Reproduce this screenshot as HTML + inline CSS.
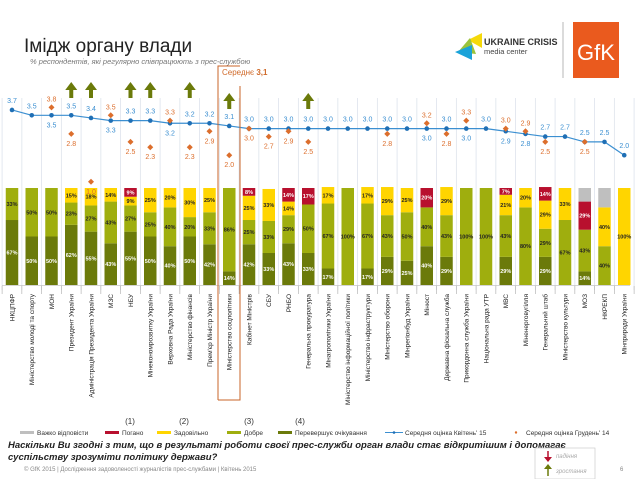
<!DOCTYPE html>
<html><head><meta charset="utf-8">
<style>
body{margin:0;background:#fff;font-family:"Liberation Sans",sans-serif;}
svg{display:block}
</style></head>
<body>
<svg id="c" width="638" height="479" viewBox="0 0 638 479" xmlns="http://www.w3.org/2000/svg" font-family="Liberation Sans, sans-serif">
<text x="24" y="52" font-size="19" fill="#222">Імідж органу влади</text>
<text x="30" y="64" font-size="7.5" font-style="italic" fill="#777">% респондентів, які регулярно співпрацюють з прес-службою</text>
<g>
<polygon points="468,40 482,33 482,48" fill="#f5d90a"/>
<polygon points="458,52 470,38 476,54" fill="#9ac33c"/>
<polygon points="455,52 472,45 472,60" fill="#1aa3d9"/>
<text x="484" y="45" font-size="9" font-weight="bold" fill="#333">UKRAINE CRISIS</text>
<text x="484" y="54" font-size="7.5" fill="#444">media center</text>
</g>
<line x1="563" y1="22" x2="563" y2="78" stroke="#999" stroke-width="0.7"/>
<g>
<rect x="573" y="22" width="46" height="56" fill="#ea5a1e"/>
<text x="596" y="60" font-size="22" fill="#fff" text-anchor="middle">GfK</text>
</g>
<g id="grid"></g>
<g id="bars"></g>
<g id="line"></g>
<g id="labels"></g>
<g fill="none" stroke="#c8642a" stroke-width="1">
<polyline points="218,400 218,66 240,66"/>
<polyline points="240,86 240,400 218,400"/>
</g>
<text x="222" y="75" font-size="8" fill="#d06a2a">Середнє <tspan font-weight="bold">3,1</tspan></text>
<g id="legend" font-size="6.5" fill="#333"></g>
<text x="8" y="448" font-size="9.5" font-weight="bold" font-style="italic" fill="#222">Наскільки Ви згодні з тим, що в результаті роботи своєї прес-служби орган влади стає відкритішим і допомагає</text>
<text x="8" y="460" font-size="9.5" font-weight="bold" font-style="italic" fill="#222">суспільству зрозуміти політику держави?</text>
<text x="24" y="471" font-size="6" fill="#888">© GfK 2015 | Дослідження задоволеності журналістів прес-службами | Квітень 2015</text>
<text x="620" y="471" font-size="6" fill="#888">6</text>
<g>
<rect x="535" y="448" width="60" height="31" fill="#fff" stroke="#ccc" stroke-width="0.7"/>
<line x1="548" y1="451" x2="548" y2="460" stroke="#b8102e" stroke-width="1.5"/><polygon points="544,457 552,457 548,462" fill="#b8102e"/>
<text x="556" y="458" font-size="6" font-style="italic" fill="#aaa">падіння</text>
<line x1="548" y1="467" x2="548" y2="476" stroke="#6b7a0a" stroke-width="1.5"/><polygon points="544,469 552,469 548,464" fill="#6b7a0a"/>
<text x="556" y="473" font-size="6" font-style="italic" fill="#aaa">зростання</text>
</g>
</svg>
<script>
const categories=["НКЦПФР","Міністерство молоді та спорту","МОН","Президент України","Адміністрація Президента України","МЗС","НБУ","Мінекономрозвитку України","Верховна Рада України","Міністерство фінансів","Прем'єр Міністр України","Міністерство соцполітики","Кабінет Міністрів","СБУ","РНБО","Генеральна прокуратура","Мінагрополітики України","Міністерство інформаційної політики","Міністерство інфраструктури","Міністерство оборони","Мінрегіонбуд України","Мінюст","Державна фіскальна служба","Прикордонна служба України","Національна рада УТР","МВС","Міненерговугілля","Генеральний штаб","Міністерство культури","МОЗ","НКРЕКП","Мінприроди України"];
const exceeds=[67,50,50,62,55,43,55,50,40,50,42,14,42,33,43,33,17,0,17,29,25,40,29,0,0,29,0,29,0,14,0,0];
const good=[33,50,50,23,27,43,27,25,40,20,33,86,25,33,29,50,67,100,67,43,50,40,43,100,100,43,80,29,67,43,40,0];
const satisf=[0,0,0,15,18,14,9,25,20,30,25,0,25,33,14,0,17,0,17,29,25,0,29,0,0,21,20,29,33,0,40,100];
const bad=[0,0,0,0,0,0,9,0,0,0,0,0,8,0,14,17,0,0,0,0,0,20,0,0,0,7,0,14,0,29,0,0];
const hard=[0,0,0,0,0,0,0,0,0,0,0,0,0,0,0,0,0,0,0,0,0,0,0,0,0,0,0,0,0,14,20,0];
const april15=[3.7,3.5,3.5,3.5,3.4,3.3,3.3,3.3,3.2,3.2,3.2,3.1,3.0,3.0,3.0,3.0,3.0,3.0,3.0,3.0,3.0,3.0,3.0,3.0,3.0,2.9,2.8,2.7,2.7,2.5,2.5,2.0];
const dec14=[null,null,3.8,2.8,1.0,3.5,2.5,2.3,3.3,2.3,2.9,2.0,3.0,2.7,2.9,2.5,null,null,null,2.8,null,3.2,2.8,3.3,null,3.0,2.9,2.5,null,2.5,null,null];
const upArrows=[0,0,0,1,1,0,1,1,0,1,0,1,0,0,0,1,0,0,0,0,0,0,0,0,0,0,0,0,0,0,0,0];

const NS="http://www.w3.org/2000/svg";
const xs=i=>12+i*19.75;
const ys=v=>128.6+(3.0-v)*26.6;
const barTop=188,barBot=285,barH=barBot-barTop,barW=12.5;
const pctY=p=>barBot-p/100*barH;
function mk(tag,parent,attrs){const e=document.createElementNS(NS,tag);for(const k in attrs)e.setAttribute(k,attrs[k]);document.getElementById(parent).appendChild(e);return e;}
const fmt=v=>v.toFixed(1);

for(let i=0;i<=categories.length;i++){
  const gx=xs(i)-9.9;
  const l=mk('line','grid',{x1:gx,y1:98,x2:gx,y2:290,stroke:'#dde3ec','stroke-width':0.8});
  
  
  const t=mk('line','grid',{x1:gx,y1:286,x2:gx,y2:294,stroke:'#aaa','stroke-width':0.6});
  
  
}
mk('line','grid',{x1:2,y1:285.5,x2:630,y2:285.5,stroke:'#aaa','stroke-width':0.6});

const segs=[[exceeds,'#6b7a0a','#fff','exceeds'],[good,'#9fae0e','#222','good'],[satisf,'#ffd500','#222','satisfactory'],[bad,'#b8102e','#fff','bad'],[hard,'#bfbfbf','#222','hard-to-say']];
categories.forEach((c,i)=>{
  let acc=0;
  segs.forEach(([arr,col,tc,nm])=>{
    const v=arr[i]; if(!v) return;
    const y1=pctY(acc+v),y0=pctY(acc);
    const r=mk('rect','bars',{x:xs(i)-barW/2,y:y1,width:barW,height:y0-y1,fill:col});
    
    
    if(nm!=='hard-to-say'){
      const t=mk('text','bars',{x:xs(i),y:(y0+y1)/2+2,'font-size':5.5,'font-weight':'bold','text-anchor':'middle',fill:tc});
      t.textContent=v+'%';
      
      
    }
    acc+=v;
  });
  const lb=mk('text','labels',{transform:`translate(${xs(i)+2.3},294) rotate(-90)`,'font-size':6.5,'text-anchor':'end',fill:'#222'});
  lb.textContent=c;
  
  
  if(upArrows[i]){
    const hi=i<11?82:93;
    const g=mk('g','line',{fill:'#6b7a0a'});
    
    
    const a=document.createElementNS(NS,'polygon');
    const x=xs(i);
    a.setAttribute('points',`${x},${hi} ${x+6},${hi+8} ${x+2},${hi+8} ${x+2},${hi+16} ${x-2},${hi+16} ${x-2},${hi+8} ${x-6},${hi+8}`);
    g.appendChild(a);
  }
});

const pts=april15.map((v,i)=>xs(i)+','+ys(v)).join(' ');
const pl=mk('polyline','line',{points:pts,fill:'none',stroke:'#3b8fd1','stroke-width':1.2});


april15.forEach((v,i)=>{
  const d=dec14[i];
  const blueBelow=d!==null&&d>v;
  const c=mk('circle','line',{cx:xs(i),cy:ys(v),r:2.3,fill:'#1f6fb5'});
  
  
  const t=mk('text','line',{x:xs(i),y:blueBelow?ys(v)+12:ys(v)-7,'font-size':7,'text-anchor':'middle',fill:'#3b8fd1'});
  t.textContent=fmt(v);
  
  
  if(d!==null){
    const x=xs(i),y=ys(d);
    const m=mk('polygon','line',{points:`${x},${y-3} ${x+3},${y} ${x},${y+3} ${x-3},${y}`,fill:'#dc6e2c'});
    
    
    const ot=mk('text','line',{x:x,y:blueBelow?y-6:y+12,'font-size':7,'text-anchor':'middle',fill:'#dc6e2c'});
    ot.textContent=fmt(d);
    
    
  }
});

const leg=[['Важко відповісти','#bfbfbf',20,'',0],['Погано','#b8102e',105,'(1)',130],['Задовільно','#ffd500',157,'(2)',184],['Добре','#9fae0e',227,'(3)',249],['Перевершує очікування','#6b7a0a',278,'(4)',300]];
leg.forEach(([t,c,x,n,nx])=>{
  const r=mk('rect','legend',{x:x,y:431,width:14,height:3,fill:c});
  
  
  const tx=mk('text','legend',{x:x+17,y:435});
  tx.textContent=t;
  
  
  if(n){const nt=mk('text','legend',{x:nx,y:424,'font-size':8,'text-anchor':'middle'});nt.textContent=n;
  
  }
});
mk('line','legend',{x1:385,y1:432.5,x2:403,y2:432.5,stroke:'#3b8fd1','stroke-width':1});
mk('circle','legend',{cx:394,cy:432.5,r:1.3,fill:'#1f6fb5'});
const l1=mk('text','legend',{x:405,y:435});l1.textContent="Середня оцінка Квітень' 15";


mk('circle','legend',{cx:516,cy:432.5,r:1.2,fill:'#dc6e2c'});
const l2=mk('text','legend',{x:526,y:435});l2.textContent="Середня оцінка Грудень' 14";


</script>
</body></html>
